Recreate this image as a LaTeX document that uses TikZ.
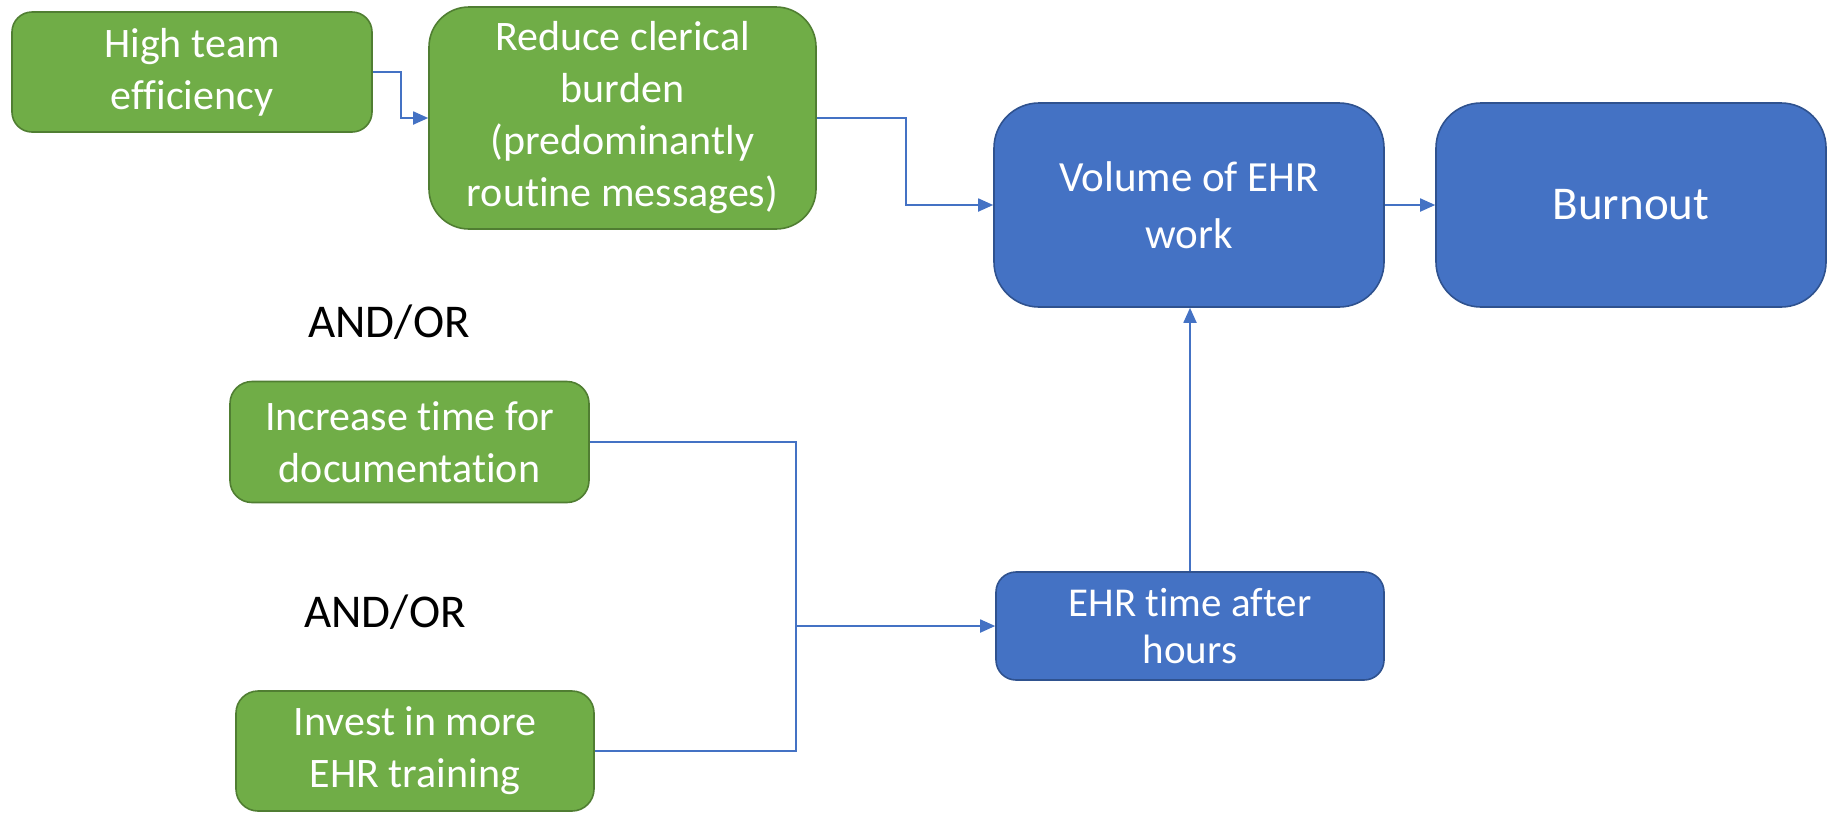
\documentclass[tikz,border=0pt]{standalone}
\usepackage{fontspec}
\setmainfont[RawFeature={-liga;-clig;-calt;-dlig}]{Carlito}
\usetikzlibrary{arrows.meta}
\definecolor{boxgreen}{HTML}{70AD47}
\definecolor{edgegreen}{HTML}{507E32}
\definecolor{boxblue}{HTML}{4472C4}
\definecolor{edgeblue}{HTML}{2F528F}
\tikzset{
  greenbox/.style={draw=edgegreen, fill=boxgreen, line width=1.6pt, text=white,
    align=center, inner sep=0pt, font=\fontsize{42}{52}\selectfont},
  bluebox/.style={draw=edgeblue, fill=boxblue, line width=1.6pt, text=white,
    align=center, inner sep=0pt},
  link/.style={draw=boxblue, line width=1.8pt},
  conn/.style={link, -{Triangle[length=15pt,width=13pt]}},
  label/.style={font=\fontsize{47}{56}\selectfont, text=black}
}
\begin{document}
\begin{tikzpicture}[x=1pt,y=-1pt]
\useasboundingbox (0,0) rectangle (1835,815);

% interventions (green)
\node[greenbox, rounded corners=20pt, minimum width=360pt, minimum height=120pt] (hte) at (192,72) {High team\\efficiency};
\node[greenbox, rounded corners=40pt, minimum width=387pt, minimum height=222pt] (rcb) at (622.5,118) {Reduce clerical\\burden\\(predominantly\\routine messages)};
\node[greenbox, rounded corners=22pt, minimum width=359pt, minimum height=121pt] (inc) at (409.5,442) {Increase time for\\documentation};
\node[greenbox, rounded corners=22pt, minimum width=358pt, minimum height=120pt] (inv) at (415,751) {Invest in more\\EHR training};

% outcomes (blue)
\node[bluebox, rounded corners=45pt, minimum width=390pt, minimum height=204pt, font=\fontsize{43}{57}\selectfont] (vol) at (1189,205) {Volume of EHR\\work};
\node[bluebox, rounded corners=45pt, minimum width=390pt, minimum height=204pt, font=\fontsize{47}{57}\selectfont] (bur) at (1631,205) {Burnout};
\node[bluebox, rounded corners=20pt, minimum width=388pt, minimum height=108pt, font=\fontsize{41}{47}\selectfont] (eta) at (1190,626) {EHR time after\\hours};

% connective labels
\node[label] (ao1) at (389,322) {AND/OR};
\node[label] (ao2) at (385,612) {AND/OR};

% connectors
\coordinate (jn) at (796,626);
\draw[conn] (hte.east) -- ++(28,0) |- (rcb.west);
\draw[conn] (rcb.east) -- ++(89,0) |- (vol.west);
\draw[conn] (vol.east) -- (bur.west);
\draw[conn] (inc.east) -| (jn) -- (eta.west);
\draw[link] (inv.east) -| (jn);
\draw[conn] (eta.north) -- (eta.north |- vol.south);
\end{tikzpicture}
\end{document}
